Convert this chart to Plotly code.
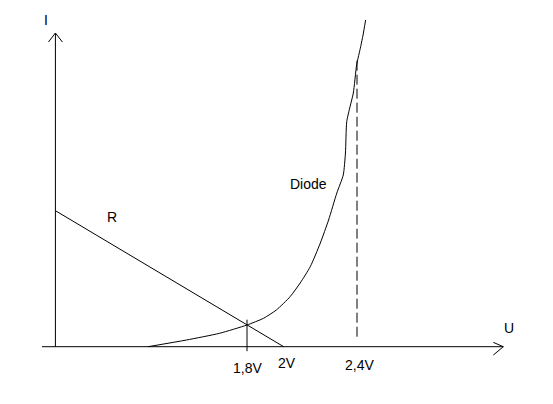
import plotly.graph_objects as go

# ---- data (U in volts, I in arbitrary current units) ----
diode_u = [1.26, 1.47, 1.65, 1.80, 1.89, 1.96, 2.035, 2.09, 2.145, 2.20, 2.245,
           2.29, 2.325, 2.337, 2.344, 2.362, 2.38, 2.398, 2.42, 2.433, 2.447]
diode_i = [0, 0.67, 1.34, 2.17, 2.84, 3.67, 5.0, 6.37, 8.0, 10.37, 12.67,
           15.37, 17.17, 19.37, 22.5, 24.0, 25.37, 28.17, 30.0, 31.17, 32.67]

resistor_u = [0.755, 2.0]
resistor_i = [13.6, 0.0]

tick_values = [1.8, 2.0, 2.4]
tick_labels = ["1,8V", "2V", "2,4V"]

operating_u = 1.8          # intersection of R line and diode curve
dashed_u = 2.4             # dashed marker
dashed_i = [1.0, 29.0]

axis_origin_u = 0.755      # position of the I axis
x_axis_u = [0.682, 3.198]  # extent of the U axis
y_axis_i = [0.0, 31.37]    # extent of the I axis

# ---- layout helpers ----
X_RANGE = [0.4527, 3.4691]
Y_RANGE = [-5.73, 34.67]
line_style = dict(color="black", width=1)
font = dict(family="Liberation Sans, Arial, sans-serif", size=14, color="black")

fig = go.Figure()

# axes
fig.add_trace(go.Scatter(x=x_axis_u, y=[0, 0], mode="lines", line=line_style,
                         hoverinfo="skip"))
fig.add_trace(go.Scatter(x=[axis_origin_u, axis_origin_u], y=y_axis_i, mode="lines",
                         line=line_style, hoverinfo="skip"))

# open arrow heads
hx_len, hx_w = 0.0545, 0.62
tip_u = x_axis_u[1]
fig.add_trace(go.Scatter(x=[tip_u - hx_len, tip_u, tip_u - hx_len],
                         y=[hx_w * 0.7, 0, -hx_w * 1.35], mode="lines",
                         line=line_style, hoverinfo="skip"))
hy_len, hy_w = 0.9, 0.038
tip_i = y_axis_i[1]
fig.add_trace(go.Scatter(x=[axis_origin_u - hy_w, axis_origin_u, axis_origin_u + hy_w],
                         y=[tip_i - hy_len, tip_i, tip_i - hy_len], mode="lines",
                         line=line_style, hoverinfo="skip"))

# resistor load line
fig.add_trace(go.Scatter(x=resistor_u, y=resistor_i, mode="lines", line=line_style,
                         hoverinfo="skip"))
# diode curve
fig.add_trace(go.Scatter(x=diode_u, y=diode_i, mode="lines",
                         line=dict(color="black", width=1, shape="spline", smoothing=0.6),
                         hoverinfo="skip"))
# operating point tick
fig.add_trace(go.Scatter(x=[operating_u, operating_u], y=[2.7, -0.45], mode="lines",
                         line=line_style, hoverinfo="skip"))
# dashed line
fig.add_trace(go.Scatter(x=[dashed_u, dashed_u], y=dashed_i, mode="lines",
                         line=dict(color="black", width=1, dash="10px,4px"),
                         hoverinfo="skip"))

annotations = [
    dict(x=0.7027, y=32.67, text="I"),
    dict(x=3.229, y=1.87, text="U"),
    dict(x=1.062, y=13.0, text="R"),
    dict(x=2.136, y=16.27, text="Diode"),
    dict(x=tick_values[0], y=-2.13, text=tick_labels[0]),
    dict(x=tick_values[1] + 0.018, y=-1.63, text=tick_labels[1]),
    dict(x=tick_values[2] + 0.011, y=-1.83, text=tick_labels[2]),
]
for a in annotations:
    a.update(xref="x", yref="y", showarrow=False, font=font,
             xanchor="center", yanchor="middle")

fig.update_layout(
    width=553, height=404,
    margin=dict(l=0, r=0, t=0, b=0),
    paper_bgcolor="white", plot_bgcolor="white",
    showlegend=False,
    xaxis=dict(range=X_RANGE, visible=False, fixedrange=True),
    yaxis=dict(range=Y_RANGE, visible=False, fixedrange=True),
    annotations=annotations,
)

fig.write_html("out.html", config={"displayModeBar": False},
               post_script="document.body.style.margin='0';")
